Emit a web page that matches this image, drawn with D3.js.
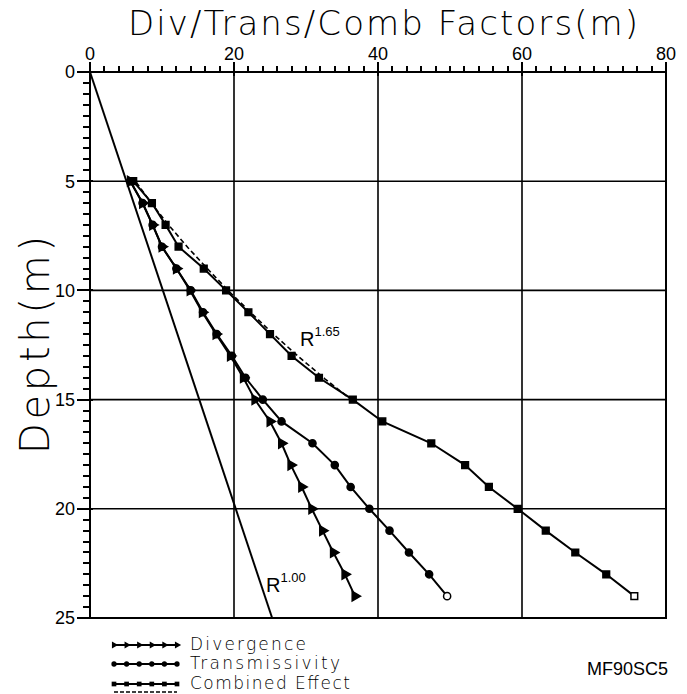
<!DOCTYPE html>
<html>
<head>
<meta charset="utf-8">
<script src="https://cdn.jsdelivr.net/npm/d3@7/dist/d3.min.js"></script>
<style>
  body { margin: 0; background: #fff; }
  text { font-family: "Liberation Sans", Arial, sans-serif; fill: #000; }
  .wide { font-family: "DejaVu Sans", sans-serif; font-weight: 200; }
</style>
</head>
<body>
<div id="chart"></div>
<script>
// depths (m) where the factors were computed
var depths = [5, 6, 7, 8, 9, 10, 11, 12, 13, 14, 15, 16, 17, 18, 19, 20, 21, 22, 23, 24];

var divergence = [5.6, 7.3, 8.7, 10.0, 12.0, 13.9, 15.6, 17.5, 19.5, 21.3,
                  22.9, 25.0, 26.6, 27.9, 29.4, 30.8, 32.3, 33.8, 35.4, 36.8];
var transmissivity = [5.6, 7.3, 8.7, 10.0, 12.0, 14.0, 15.7, 17.6, 19.7, 21.6,
                      24.0, 26.6, 30.9, 34.0, 36.2, 38.8, 41.6, 44.3, 47.1, 49.6];
var combined = [6.0, 8.6, 10.5, 12.3, 15.8, 18.9, 22.0, 25.0, 28.0, 31.8,
                36.5, 40.6, 47.4, 52.1, 55.4, 59.4, 63.3, 67.4, 71.7, 75.6];

// dashed R^1.65 fit
var fitDepths = [5, 6, 7, 8, 9, 10, 11, 12, 13, 14, 15];
var fit165 = [6.0, 8.2, 10.6, 13.2, 16.0, 18.9, 22.0, 25.2, 28.6, 32.2, 36.0];

// R^1.00 reference line
var r100Depths = [0, 25];
var r100 = [0, 25.3];

var xTicks = [0, 20, 40, 60, 80];
var yTicks = [0, 5, 10, 15, 20, 25];
var legendNames = ["Divergence", "Transmissivity", "Combined  Effect"];

var width = 687, height = 694;
var margin = { top: 72, right: 21, bottom: 76, left: 90 };

var svg = d3.select("#chart").append("svg")
    .attr("width", width)
    .attr("height", height);

var x = d3.scaleLinear().domain([0, 80]).range([margin.left, width - margin.right]);
var y = d3.scaleLinear().domain([0, 25]).range([margin.top, height - margin.bottom]);

// grid
svg.append("g").selectAll("line.vg")
  .data(xTicks.slice(1, -1))
  .enter().append("line")
    .attr("x1", function(d) { return x(d); })
    .attr("x2", function(d) { return x(d); })
    .attr("y1", y(0)).attr("y2", y(25))
    .attr("stroke", "#000").attr("stroke-width", 1.6);
svg.append("g").selectAll("line.hg")
  .data(yTicks.slice(1, -1))
  .enter().append("line")
    .attr("y1", function(d) { return y(d); })
    .attr("y2", function(d) { return y(d); })
    .attr("x1", x(0)).attr("x2", x(80))
    .attr("stroke", "#000").attr("stroke-width", 1.6);

svg.append("rect")
    .attr("x", x(0)).attr("y", y(0))
    .attr("width", x(80) - x(0)).attr("height", y(25) - y(0))
    .attr("fill", "none").attr("stroke", "#000").attr("stroke-width", 2);

// top axis: minor ticks every 2, pointing up
var topTicks = d3.range(0, 81, 2);
svg.append("g").selectAll("rect")
  .data(topTicks)
  .enter().append("rect")
    .attr("x", function(d) { return Math.round(x(d)) - 1; })
    .attr("y", y(0) - 6)
    .attr("width", 2).attr("height", 6)
    .attr("fill", "#000");
svg.append("g").selectAll("rect")
  .data(xTicks)
  .enter().append("rect")
    .attr("x", function(d) { return Math.round(x(d)) - 1; })
    .attr("y", y(0) - 10)
    .attr("width", 2).attr("height", 14)
    .attr("fill", "#000");
svg.append("g").selectAll("text")
  .data(xTicks)
  .enter().append("text")
    .attr("x", function(d) { return x(d); })
    .attr("y", y(0) - 12)
    .attr("text-anchor", "middle")
    .style("font-size", "18px")
    .text(function(d) { return d; });

// left axis: minor ticks every 0.5, pointing left
var leftTicks = d3.range(0, 25.01, 0.5);
svg.append("g").selectAll("rect")
  .data(leftTicks)
  .enter().append("rect")
    .attr("x", x(0) - 7)
    .attr("y", function(d) { return Math.round(y(d)) - 1; })
    .attr("width", 7).attr("height", 2)
    .attr("fill", "#000");
svg.append("g").selectAll("rect")
  .data(yTicks)
  .enter().append("rect")
    .attr("x", x(0) - 13)
    .attr("y", function(d) { return Math.round(y(d)) - 1; })
    .attr("width", 16).attr("height", 2)
    .attr("fill", "#000");
svg.append("g").selectAll("text")
  .data(yTicks)
  .enter().append("text")
    .attr("x", x(0) - 15)
    .attr("y", function(d) { return y(d); })
    .attr("dy", "0.36em")
    .attr("text-anchor", "end")
    .style("font-size", "18px")
    .text(function(d) { return d; });

// titles
svg.append("text")
    .attr("class", "wide")
    .attr("x", 383).attr("y", 35)
    .attr("text-anchor", "middle")
    .attr("textLength", 510).attr("lengthAdjust", "spacing")
    .style("font-size", "34px")
    .text("Div/Trans/Comb  Factors(m)");
svg.append("text")
    .attr("class", "wide")
    .attr("transform", "translate(49,345) rotate(-90)")
    .attr("text-anchor", "middle")
    .attr("textLength", 218).attr("lengthAdjust", "spacing")
    .style("font-size", "40px")
    .text("Depth(m)");

// lines
var line = d3.line()
    .x(function(d) { return x(d[0]); })
    .y(function(d) { return y(d[1]); });

function pairs(vals, ds) { return vals.map(function(v, i) { return [v, ds[i]]; }); }

svg.append("path").datum(pairs(r100, r100Depths))
    .attr("d", line).attr("fill", "none").attr("stroke", "#000").attr("stroke-width", 2);
svg.append("path").datum(pairs(fit165, fitDepths))
    .attr("d", line).attr("fill", "none").attr("stroke", "#000")
    .attr("stroke-width", 1.6).attr("stroke-dasharray", "5,3")
    .attr("transform", "translate(3,1)");

var series = [
  { name: "div", vals: divergence, sym: d3.symbolTriangle, rot: 90, size: 40, openLast: false },
  { name: "trans", vals: transmissivity, sym: d3.symbolCircle, rot: 0, size: 40, openLast: true },
  { name: "comb", vals: combined, sym: d3.symbolSquare, rot: 0, size: 45, openLast: true }
];

series.forEach(function(s) {
  var pts = pairs(s.vals, depths);
  svg.append("path").datum(pts)
      .attr("d", line).attr("fill", "none").attr("stroke", "#000").attr("stroke-width", 2);
  svg.append("g").selectAll("path")
    .data(pts)
    .enter().append("path")
      .attr("d", d3.symbol().type(s.sym).size(s.size))
      .attr("transform", function(d) { return "translate(" + x(d[0]) + "," + y(d[1]) + ") rotate(" + s.rot + ")"; })
      .attr("fill", function(d, i) { return (s.openLast && i == pts.length - 1) ? "#fff" : "#000"; })
      .attr("stroke", "#000").attr("stroke-width", 1.5);
});

// curve labels
var lab1 = svg.append("text").attr("x", 300).attr("y", 346).style("font-size", "20px");
lab1.append("tspan").text("R");
lab1.append("tspan").attr("dy", -10).style("font-size", "13px").text("1.65");
var lab2 = svg.append("text").attr("x", 266).attr("y", 592).style("font-size", "20px");
lab2.append("tspan").text("R");
lab2.append("tspan").attr("dy", -10).style("font-size", "13px").text("1.00");

// legend
var legendY = [645, 664, 684];
var legendX = d3.range(0, 6).map(function(i) { return 114 + i * 12.6; });
series.forEach(function(s, k) {
  var g = svg.append("g");
  g.append("line").attr("x1", legendX[0]).attr("x2", legendX[5])
      .attr("y1", legendY[k]).attr("y2", legendY[k])
      .attr("stroke", "#000").attr("stroke-width", 2);
  g.selectAll("path").data(legendX).enter().append("path")
      .attr("d", d3.symbol().type(s.sym).size(22))
      .attr("transform", function(d) { return "translate(" + d + "," + legendY[k] + ") rotate(" + s.rot + ")"; })
      .attr("fill", "#000");
  g.append("text").attr("class", "wide").attr("x", 190).attr("y", legendY[k] + 5)
      .attr("textLength", [116, 150, 160][k]).attr("lengthAdjust", "spacing")
      .style("font-size", "17px").text(legendNames[k]);
});
svg.append("line").attr("x1", legendX[0]).attr("x2", legendX[5])
    .attr("y1", 692).attr("y2", 692)
    .attr("stroke", "#000").attr("stroke-width", 1.5).attr("stroke-dasharray", "4,2");

svg.append("text").attr("x", 668).attr("y", 675)
    .attr("text-anchor", "end")
    .style("font-size", "18px")
    .text("MF90SC5");
</script>
</body>
</html>
